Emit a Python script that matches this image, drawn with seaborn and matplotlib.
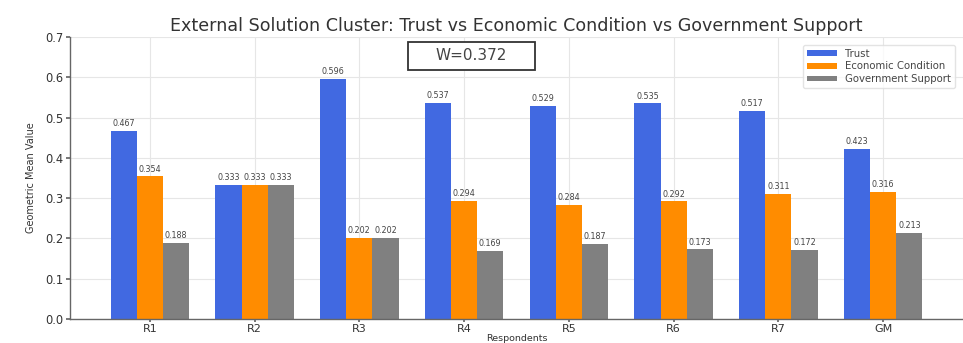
import matplotlib
matplotlib.use("Agg")
import matplotlib.pyplot as plt
from matplotlib.patches import Rectangle
import pandas as pd
import seaborn as sns

# Geometric mean values per respondent and factor
respondents = ["R1", "R2", "R3", "R4", "R5", "R6", "R7", "GM"]
trust = [0.467, 0.333, 0.596, 0.537, 0.529, 0.535, 0.517, 0.423]
economic = [0.354, 0.333, 0.202, 0.294, 0.284, 0.292, 0.311, 0.316]
government = [0.188, 0.333, 0.202, 0.169, 0.187, 0.173, 0.172, 0.213]
factors = ["Trust", "Economic Condition", "Government Support"]
colors = ["royalblue", "darkorange", "gray"]
kendall_w = 0.372

rows = []
for name, vals in zip(factors, [trust, economic, government]):
    for r, v in zip(respondents, vals):
        rows.append({"Respondents": r, "Value": v, "Factor": name})
df = pd.DataFrame(rows)

sns.set_theme(style="whitegrid")
plt.rcParams["font.family"] = ["DejaVu Sans"]

fig = plt.figure(figsize=(9.63, 3.43), dpi=100)
ax = fig.add_axes([70 / 963, 24 / 343, 893 / 963, 282 / 343])

sns.barplot(data=df, x="Respondents", y="Value", hue="Factor",
            palette=colors, saturation=1, width=0.75, gap=0,
            linewidth=0, ax=ax)

for cont in ax.containers:
    ax.bar_label(cont, fmt="%.3f", fontsize=5.8, color="#444444", padding=2)

ax.set_xlim(-0.7625, 7.7625)
ax.set_ylim(0, 0.7)
ax.set_yticks([0.0, 0.1, 0.2, 0.3, 0.4, 0.5, 0.6, 0.7])
ax.set_yticklabels([f"{t:.1f}" for t in ax.get_yticks()])

ax.grid(True, color="#e6e6e6", linewidth=0.8)
ax.set_axisbelow(True)
for side in ["top", "right"]:
    ax.spines[side].set_visible(False)
for side in ["left", "bottom"]:
    ax.spines[side].set_visible(True)
    ax.spines[side].set_color("#666666")
    ax.spines[side].set_linewidth(1.0)

ax.tick_params(axis="both", which="both", length=3, color="#666666",
               labelsize=8.3, labelcolor="#333333", pad=2, left=True, bottom=True)
ax.tick_params(axis="x", length=2.5, labelsize=8, pad=1)

ax.set_ylabel("Geometric Mean Value", fontsize=7, color="#333333", labelpad=6)
ax.set_xlabel("Respondents", fontsize=6.8, color="#333333", labelpad=0)
ax.set_title("External Solution Cluster: Trust vs Economic Condition vs Government Support",
             fontsize=12.6, color="#333333", pad=4)

# Kendall's W annotation box
ax.add_patch(Rectangle((0.3785, 0.8846), 0.1422, 0.098, transform=ax.transAxes,
                       facecolor="white", edgecolor="#333333", linewidth=1.3,
                       zorder=5))
ax.text(0.449, 0.934, f"W={kendall_w}", transform=ax.transAxes,
        ha="center", va="center", fontsize=11, color="#444444", zorder=6)

leg = ax.legend(loc="upper right", fontsize=7.3, frameon=True,
                handlelength=3.0, handleheight=0.5, handletextpad=0.8,
                borderpad=0.4, labelspacing=0.25, bbox_to_anchor=(0.997, 0.99))
leg.get_frame().set_edgecolor("#dddddd")
for t in leg.get_texts():
    t.set_color("#444444")

fig.savefig("out.png", dpi=100)
